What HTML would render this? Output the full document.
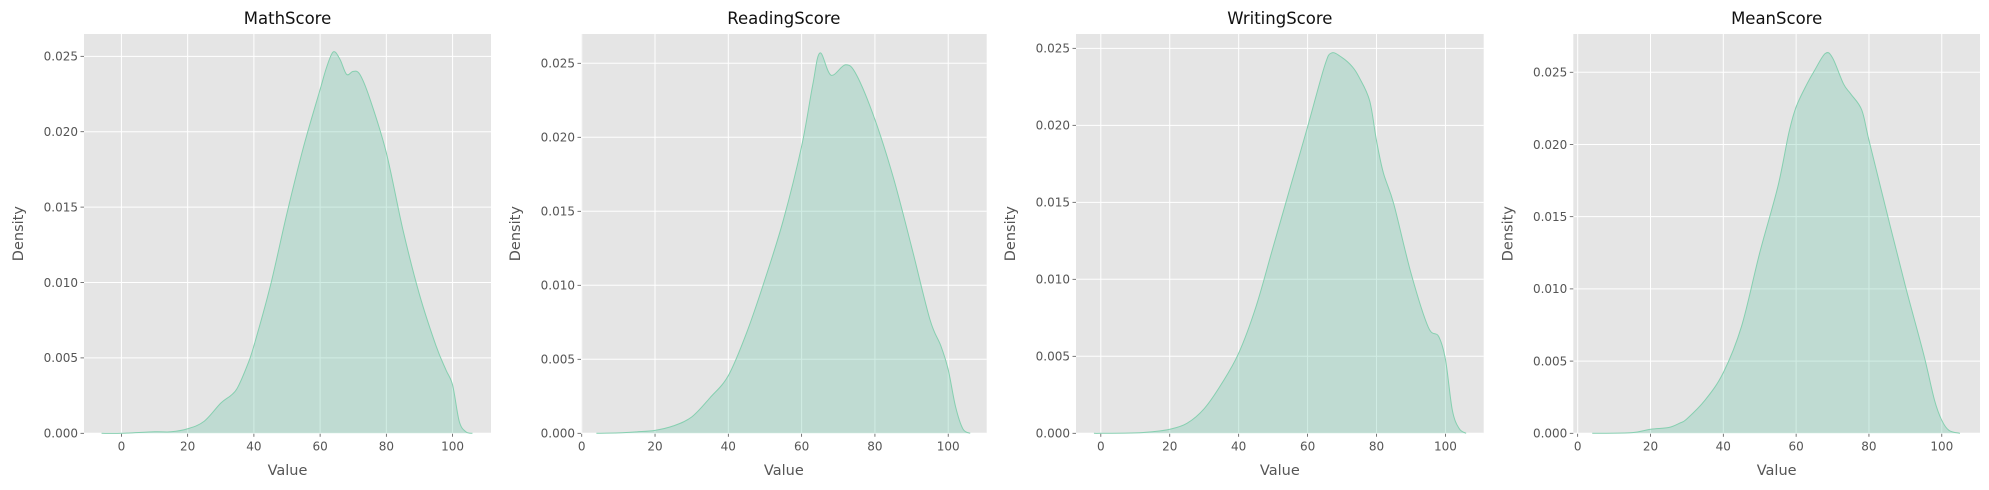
<!DOCTYPE html>
<html><head><meta charset="utf-8">
<style>
html,body{margin:0;padding:0;background:#fff;}
svg{display:block;font-family:"DejaVu Sans","Liberation Sans",sans-serif;}
</style></head>
<body>
<svg id="fig" width="1989" height="490" viewBox="0 0 1989 490" xmlns="http://www.w3.org/2000/svg"></svg>
<script>
// ---- data ----
const panelTitles = ["MathScore","ReadingScore","WritingScore","MeanScore"];
const mathX = [-6,0,10,15,20,25,30,33,35,38,40,45,50,55,60,62,64,66,68,70,72,75,80,85,90,95,98,100,102,104,106];
const mathY = [0,0,0.0001,0.0001,0.0003,0.0008,0.002,0.0025,0.003,0.0045,0.0058,0.0098,0.0146,0.019,0.0228,0.0243,0.0253,0.0248,0.0238,0.024,0.0238,0.0222,0.0186,0.0135,0.0092,0.0058,0.0042,0.0032,0.0008,0.0001,0];
const readX = [4,10,15,20,25,30,35,40,45,50,55,60,63,65,68,72,75,80,85,90,95,98,100,102,104,106];
const readY = [0,0.00003,0.0001,0.0002,0.0005,0.0011,0.0024,0.0039,0.0068,0.0104,0.0144,0.0194,0.0235,0.0257,0.0242,0.0249,0.0242,0.0212,0.0173,0.0126,0.0077,0.0059,0.0043,0.0018,0.0003,0];
const writeX = [-2,0,10,15,20,25,30,35,40,45,50,55,60,65,67,70,73,75,78,80,82,85,90,95,98,100,102,104,106];
const writeY = [0,0,0.00003,0.0001,0.00026,0.00065,0.0016,0.0032,0.0052,0.0082,0.0121,0.016,0.0199,0.0239,0.0247,0.0244,0.0238,0.0231,0.0216,0.019,0.0169,0.0149,0.0104,0.0069,0.0063,0.0048,0.0015,0.0003,0];
const meanX = [4,15,20,25,28,30,35,40,45,50,55,58,60,63,65,68,70,73,75,78,80,85,90,95,98,100,102,105];
const meanY = [0,0.00005,0.00028,0.0004,0.0007,0.001,0.0023,0.0042,0.0074,0.0125,0.0171,0.0208,0.0226,0.0242,0.0251,0.0263,0.026,0.0242,0.0235,0.0224,0.0203,0.0152,0.0102,0.0055,0.0023,0.0009,0.0002,0];
const xTicks = [0,20,40,60,80,100];
const yTicks = [0,0.005,0.010,0.015,0.020,0.025];
const yTickLabels = ["0.000","0.005","0.010","0.015","0.020","0.025"];

// ---- layout (not data) ----
const panels = [
  {l:84, r:491, xmin:-11.3, xmax:111.6, ymax:0.02648, xs:mathX, ys:mathY},
  {l:581, r:986.7, xmin:-0.2, xmax:110.5, ymax:0.02698, xs:readX, ys:readY},
  {l:1076, r:1483.7, xmin:-7.2, xmax:111.1, ymax:0.02593, xs:writeX, ys:writeY},
  {l:1573.3, r:1980, xmin:-1.2, xmax:110.5, ymax:0.02765, xs:meanX, ys:meanY}
];
const TOP=34, BOT=433.3;
const svg=document.getElementById('fig');
const NS="http://www.w3.org/2000/svg";
function mk(tag,attrs,parent){const e=document.createElementNS(NS,tag);for(const k in attrs)e.setAttribute(k,attrs[k]);(parent||svg).appendChild(e);return e;}

function smooth(pts){
  let d=`M${pts[0][0]},${pts[0][1]}`;
  for(let i=0;i<pts.length-1;i++){
    const p0=pts[Math.max(0,i-1)],p1=pts[i],p2=pts[i+1],p3=pts[Math.min(pts.length-1,i+2)];
    const c1x=p1[0]+(p2[0]-p0[0])/6,c1y=p1[1]+(p2[1]-p0[1])/6;
    const c2x=p2[0]-(p3[0]-p1[0])/6,c2y=p2[1]-(p3[1]-p1[1])/6;
    d+=` C${c1x},${c1y} ${c2x},${c2y} ${p2[0]},${p2[1]}`;
  }
  return d;
}

panels.forEach((p,i)=>{
  const g=mk('g',{});
  
  
  const X=v=>p.l+(v-p.xmin)/(p.xmax-p.xmin)*(p.r-p.l);
  const Y=v=>BOT-v/p.ymax*(BOT-TOP);
  const bg=mk('rect',{x:p.l,y:TOP,width:p.r-p.l,height:BOT-TOP,fill:'#e5e5e5'},g);
  
  
  xTicks.forEach(t=>{
    const ln=mk('line',{x1:X(t),x2:X(t),y1:TOP,y2:BOT,stroke:'#fff','stroke-width':1},g);
    
    
    mk('line',{x1:X(t),x2:X(t),y1:BOT,y2:BOT+3.5,stroke:'#555','stroke-width':0.8},g);
    const tx=mk('text',{x:X(t),y:BOT+17,'text-anchor':'middle','font-size':12,fill:'#555'},g);
    tx.textContent=t;
    
    
  });
  yTicks.forEach((t,j)=>{
    const ln=mk('line',{x1:p.l,x2:p.r,y1:Y(t),y2:Y(t),stroke:'#fff','stroke-width':1},g);
    
    
    mk('line',{x1:p.l-3.5,x2:p.l,y1:Y(t),y2:Y(t),stroke:'#555','stroke-width':0.8},g);
    const tx=mk('text',{x:p.l-6,y:Y(t)+4.3,'text-anchor':'end','font-size':12,fill:'#555'},g);
    tx.textContent=yTickLabels[j];
    
    
  });
  const pts=p.xs.map((x,k)=>[X(x),Y(p.ys[k])]);
  const line=smooth(pts);
  const area=mk('path',{d:line+` L${X(p.xs[p.xs.length-1])},${Y(0)} L${X(p.xs[0])},${Y(0)} Z`,fill:'#66c2a5','fill-opacity':0.3},g);
  
  
  const cur=mk('path',{d:line,fill:'none',stroke:'#86cfb0','stroke-width':1},g);
  
  
  const ttl=mk('text',{x:(p.l+p.r)/2,y:24,'text-anchor':'middle','font-size':16.5,fill:'#111'},g);
  ttl.textContent=panelTitles[i];
  
  
  const xl=mk('text',{x:(p.l+p.r)/2,y:475,'text-anchor':'middle','font-size':14.5,fill:'#555'},g);
  xl.textContent='Value';
  
  
  const yx=p.l-61;
  const yl=mk('text',{x:yx,y:(TOP+BOT)/2,'text-anchor':'middle','font-size':14.5,fill:'#555',transform:`rotate(-90 ${yx} ${(TOP+BOT)/2})`},g);
  yl.textContent='Density';
  
  
});
</script>
</body></html>
